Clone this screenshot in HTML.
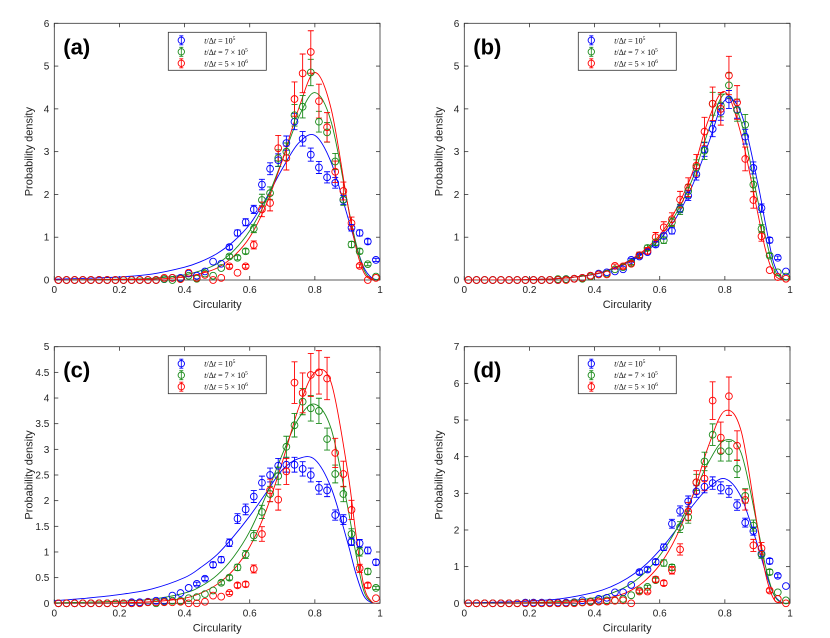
<!DOCTYPE html>
<html><head><meta charset="utf-8"><style>
body{margin:0;background:#fff}
svg{display:block;font-family:"Liberation Sans",sans-serif}
</style></head><body>
<svg id="fig" width="830" height="638" viewBox="0 0 830 638" xmlns="http://www.w3.org/2000/svg"></svg>
<script>
const binCenters = Array.from({length:40},(_,i)=>0.0125+0.025*i);
const fitX = [0,0.1,0.2,0.3,0.4,0.45,0.5,0.55,0.6,0.65,0.7,0.75,0.8,0.85,0.9,0.925,0.95,0.975,1];
const z=n=>Array(n).fill(0);
const aBlue  = z(13).concat([0.02,0.05,0.05,0.15,0.1,0.2,0.43,0.38,0.77,1.1,1.35,1.65,2.23,2.6,2.8,3.2,3.7,3.3,2.93,2.63,2.4,2.27,1.87,1.22,1.1,0.9,0.47]);
const aGreen = z(13).concat([0.02,0,0.03,0.1,0.03,0.15,0.1,0.28,0.55,0.52,0.67,1.2,1.87,2.03,2.85,3.0,3.85,4.05,4.85,3.7,3.45,2.77,1.88,0.83,0.67,0.37,0.08]);
const aRed   = z(13).concat([0.05,0.05,0.02,0.17,0.05,0.12,0,0.05,0.32,0.17,0.32,0.82,1.65,1.8,3.08,2.85,4.23,4.83,5.33,4.18,3.57,2.53,2.08,1.33,0.33,0,0.05]);
const aFitBlue  = [0.02,0.04,0.07,0.14,0.3,0.43,0.62,0.9,1.3,1.9,2.6,3.2,3.38,2.75,1.5,0.85,0.3,0.05,0];
const aFitGreen = [0,0.01,0.02,0.04,0.12,0.22,0.38,0.68,1.15,1.85,2.8,3.8,4.38,3.7,1.8,0.9,0.25,0.02,0];
const aFitRed   = [0,0,0.01,0.02,0.07,0.15,0.28,0.55,1.0,1.75,2.8,4.0,4.85,4.0,1.8,0.8,0.18,0.01,0];
const bBlue  = z(12).concat([0.02,0.03,0.05,0.1,0.15,0.18,0.2,0.25,0.47,0.55,0.65,0.83,1.03,1.15,1.67,1.97,2.47,3.05,3.53,3.93,4.22,3.98,3.35,2.62,1.68,0.93,0.52,0.2]);
const bGreen = z(11).concat([0.02,0.02,0.03,0.03,0.08,0.13,0.15,0.25,0.3,0.4,0.58,0.75,0.88,0.93,1.35,1.65,2.08,2.63,3.02,4.12,4.08,4.55,3.97,3.63,2.23,1.2,0.57,0.18,0.08]);
const bRed   = z(13).concat([0.03,0.05,0.1,0.13,0.13,0.33,0.32,0.38,0.58,0.68,1.0,1.23,1.42,1.88,2.17,2.67,3.47,4.12,4.0,4.78,4.15,2.83,1.87,1.02,0.23,0.07,0.03]);
const bFitBlue  = [0,0,0.01,0.04,0.13,0.24,0.4,0.62,0.95,1.45,2.2,3.2,4.2,3.9,2.3,1.3,0.4,0.05,0];
const bFitGreen = [0,0,0.01,0.04,0.14,0.25,0.42,0.65,1.0,1.55,2.35,3.5,4.35,3.7,1.9,1.0,0.28,0.03,0];
const bFitRed   = [0,0,0.01,0.04,0.14,0.26,0.43,0.68,1.05,1.65,2.5,3.75,4.4,3.4,1.6,0.7,0.15,0.01,0];
const cBlue  = z(9).concat([0.02,0.02,0.03,0.05,0.05,0.15,0.2,0.3,0.38,0.48,0.75,0.85,1.18,1.65,1.83,2.08,2.35,2.5,2.68,2.7,2.7,2.62,2.5,2.25,2.2,1.72,1.63,1.2,1.17,1.03,0.8]);
const cGreen = z(11).concat([0.02,0,0.03,0.05,0.05,0.1,0.12,0.18,0.25,0.4,0.5,0.7,0.95,1.32,1.78,2.13,2.48,3.05,3.47,3.93,3.8,3.75,3.2,2.52,2.13,1.35,1.0,0.62,0.3]);
const cRed   = z(11).concat([0.02,0.02,0.02,0.02,0.03,0,0,0.03,0.15,0.13,0.2,0.35,0.37,0.67,1.35,2.2,2.02,2.57,4.3,4.1,4.45,4.5,4.38,2.93,2.52,1.82,0.68,0.35,0.1]);
const cFitBlue  = [0.05,0.1,0.17,0.28,0.5,0.7,0.95,1.3,1.7,2.15,2.6,2.82,2.8,2.25,1.2,0.6,0.15,0.01,0];
const cFitGreen = [0.01,0.02,0.04,0.08,0.2,0.33,0.55,0.9,1.4,2.1,2.9,3.6,3.88,3.4,1.9,1.0,0.25,0.02,0];
const cFitRed   = [0,0,0.01,0.03,0.1,0.2,0.37,0.65,1.1,1.8,2.75,3.8,4.5,4.3,2.6,1.4,0.35,0.03,0];
const dBlue  = z(7).concat([0.02,0.02,0.02,0.02,0.02,0.02,0.03,0.08,0.05,0.12,0.15,0.3,0.3,0.5,0.85,0.92,1.13,1.53,2.17,2.52,2.78,3.05,3.18,3.28,3.15,3.05,2.68,2.2,1.97,1.35,1.15,0.75,0.47]);
const dGreen = z(13).concat([0.02,0.03,0.05,0.05,0.08,0.08,0.12,0.22,0.35,0.45,0.63,1.1,0.98,2.08,2.35,3.3,3.87,4.6,4.15,4.15,3.67,2.93,2.12,1.33,0.85,0.3,0.08]);
const dRed   = z(14).concat([0.02,0.03,0.05,0.05,0.07,0.08,0,0.32,0.32,0.65,0.55,0.9,1.47,2.5,3.3,3.4,5.53,4.52,5.65,4.3,2.82,1.58,1.5,0.35,0.12,0]);
const dFitBlue  = [0.01,0.03,0.06,0.13,0.3,0.45,0.68,1.0,1.45,2.0,2.65,3.15,3.4,2.9,1.6,0.85,0.25,0.02,0];
const dFitGreen = [0,0.01,0.02,0.05,0.15,0.27,0.47,0.8,1.3,2.0,2.9,3.85,4.45,4.1,2.1,1.0,0.25,0.01,0];
const dFitRed   = [0,0,0.01,0.02,0.08,0.16,0.3,0.58,1.05,1.8,2.9,4.3,5.25,4.7,2.1,0.8,0.12,0,0];
const xTicks = [0,0.2,0.4,0.6,0.8,1];
const xTickLabels = ["0","0.2","0.4","0.6","0.8","1"];

const NS="http://www.w3.org/2000/svg";
const svg=document.getElementById('fig');
function el(tag,attrs,parent,text){const e=document.createElementNS(NS,tag);for(const k in attrs)e.setAttribute(k,attrs[k]);if(text!==undefined)e.textContent=text;(parent||svg).appendChild(e);return e;}
const COLORS=["#0000ff","#1a8a1a","#ff0000"];
const ERRK=[0.035,0.05,0.08];
const panels=[
 {id:"a",x0:54.3,x1:380,yb:280,yt:23.3,ymax:6,step:1,series:[aBlue,aGreen,aRed],fits:[aFitBlue,aFitGreen,aFitRed]},
 {id:"b",x0:464.3,x1:790,yb:280,yt:23.3,ymax:6,step:1,series:[bBlue,bGreen,bRed],fits:[bFitBlue,bFitGreen,bFitRed]},
 {id:"c",x0:54.3,x1:380,yb:603.3,yt:346.7,ymax:5,step:0.5,series:[cBlue,cGreen,cRed],fits:[cFitBlue,cFitGreen,cFitRed]},
 {id:"d",x0:464.3,x1:790,yb:603.3,yt:346.7,ymax:7,step:1,series:[dBlue,dGreen,dRed],fits:[dFitBlue,dFitGreen,dFitRed]}
];
function smooth(pts){let d=`M${pts[0][0]},${pts[0][1]}`;for(let i=0;i<pts.length-1;i++){const p0=pts[Math.max(0,i-1)],p1=pts[i],p2=pts[i+1],p3=pts[Math.min(pts.length-1,i+2)];
 const c1=[p1[0]+(p2[0]-p0[0])/6,p1[1]+(p2[1]-p0[1])/6],c2=[p2[0]-(p3[0]-p1[0])/6,p2[1]-(p3[1]-p1[1])/6];
 d+=` C${c1[0].toFixed(2)},${c1[1].toFixed(2)} ${c2[0].toFixed(2)},${c2[1].toFixed(2)} ${p2[0].toFixed(2)},${p2[1].toFixed(2)}`;}return d;}
panels.forEach(p=>{
 const g=el('g',{});
 
 
 const sx=v=>p.x0+v*(p.x1-p.x0), sy=v=>p.yb-v/p.ymax*(p.yb-p.yt);
 const clip=el('clipPath',{id:'clip'+p.id},g);el('rect',{x:p.x0,y:p.yt,width:p.x1-p.x0,height:p.yb-p.yt},clip);
 xTicks.forEach((t,i)=>{const x=sx(t);
  el('line',{x1:x,x2:x,y1:p.yb,y2:p.yb-4,stroke:'#333','stroke-width':0.8},g);
  el('line',{x1:x,x2:x,y1:p.yt,y2:p.yt+4,stroke:'#333','stroke-width':0.8},g);
  const tx=el('text',{x:x,y:p.yb+13,'font-size':10,'text-anchor':'middle',fill:'#222'},g,xTickLabels[i]);
  
  
 });
 for(let v=0;v<=p.ymax+1e-9;v+=p.step){const y=sy(v);
  el('line',{x1:p.x0,x2:p.x0+4,y1:y,y2:y,stroke:'#333','stroke-width':0.8},g);
  el('line',{x1:p.x1,x2:p.x1-4,y1:y,y2:y,stroke:'#333','stroke-width':0.8},g);
  const ty=el('text',{x:p.x0-5,y:y+3.5,'font-size':10,'text-anchor':'end',fill:'#222'},g,String(Math.round(v*10)/10));
  
  
 }
 const fr=el('rect',{x:p.x0,y:p.yt,width:p.x1-p.x0,height:p.yb-p.yt,fill:'none',stroke:'#333','stroke-width':0.8},g);
 
 
 const xl=el('text',{x:(p.x0+p.x1)/2,y:p.yb+28,'font-size':11,'text-anchor':'middle',fill:'#222'},g,'Circularity');
 
 
 const ym=(p.yb+p.yt)/2, yx=p.x0-22;
 const yl=el('text',{x:yx,y:ym,'font-size':11,'text-anchor':'middle',fill:'#222',transform:`rotate(-90 ${yx} ${ym})`},g,'Probability density');
 
 
 const pl=el('text',{x:p.x0+9,y:p.yt+31,'font-size':22,'font-weight':'bold',fill:'#000'},g,'('+p.id+')');
 
 
 const pg=el('g',{'clip-path':`url(#clip${p.id})`},g);
 p.fits.forEach((f,k)=>{
  const path=el('path',{d:smooth(fitX.map((x,i)=>[sx(x),sy(f[i])])),fill:'none',stroke:COLORS[k],'stroke-width':0.9},pg);
  
  
 });
 p.series.forEach((s,k)=>{
  s.forEach((v,i)=>{
   const x=sx(binCenters[i]),y=sy(v),e=(v>0?ERRK[k]*v+0.03*Math.sqrt(v):0)/p.ymax*(p.yb-p.yt);
   if(e>1.5){
    const eb=el('path',{d:`M${x},${y-e}V${y+e}M${x-3},${y-e}H${x+3}M${x-3},${y+e}H${x+3}`,stroke:COLORS[k],'stroke-width':0.9,fill:'none'},pg);
    
    
   }
   const c=el('circle',{cx:x,cy:y,r:3.4,fill:'none',stroke:COLORS[k],'stroke-width':0.9},g);
   
   
  });
 });
 const lx=p.x0+114, ly=p.yt+9;
 const lg=el('g',{},g);
 
 
 el('rect',{x:lx,y:ly,width:98,height:38,fill:'#fff',stroke:'#333','stroke-width':0.8},lg);
 const labs=[['10','5'],['7 × 10','5'],['5 × 10','6']];
 labs.forEach((l,k)=>{const yy=ly+8+k*11.5;
  const en=el('g',{},lg);
  
  
  el('circle',{cx:lx+13,cy:yy,r:3.2,fill:'none',stroke:COLORS[k],'stroke-width':0.9},en);
  el('path',{d:`M${lx+13},${yy-4.5}V${yy+4.5}M${lx+11},${yy-4.5}H${lx+15}M${lx+11},${yy+4.5}H${lx+15}`,stroke:COLORS[k],'stroke-width':0.8},en);
  const t=el('text',{x:lx+36,y:yy+3,'font-size':8,'font-family':'Liberation Serif, serif',fill:'#000'},en);
  t.innerHTML=`<tspan font-style="italic">t</tspan>/Δ<tspan font-style="italic">t</tspan> = ${l[0]}<tspan font-size="5.5" dy="-3.5">${l[1]}</tspan>`;
 });
});
</script>
</body></html>
